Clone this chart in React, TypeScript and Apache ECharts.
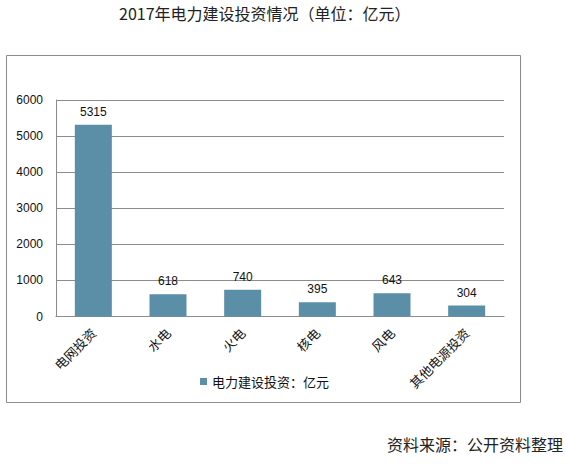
import React, { useEffect, useRef } from "react";
import * as echarts from "echarts";

const titleText = "2017年电力建设投资情况（单位：亿元）";
const sourceText = "资料来源：公开资料整理";
const seriesName = "电力建设投资：亿元";
const categories = ["电网投资", "水电", "火电", "核电", "风电", "其他电源投资"];
const values = [5315, 618, 740, 395, 643, 304];
const yTicks = [0, 1000, 2000, 3000, 4000, 5000, 6000];

const CJK = '"Noto Sans CJK SC", "Liberation Sans", sans-serif';
const NUM = '"Liberation Sans", "Noto Sans CJK SC", sans-serif';

export default function App() {
  const ref = useRef<HTMLDivElement>(null);
  useEffect(() => {
    if (!ref.current) return;
    const chart = echarts.init(ref.current, undefined, { renderer: "svg" });
    chart.setOption({
      animation: false,
      backgroundColor: "#ffffff",
      title: {
        text: titleText,
        left: 119,
        top: 5,
        padding: 0,
        textStyle: { fontFamily: CJK, fontSize: 16, fontWeight: "normal", color: "#222" },
      },
      legend: {
        data: [seriesName],
        left: 200,
        top: 375,
        padding: 0,
        icon: "rect",
        itemWidth: 7,
        itemHeight: 7,
        textStyle: { fontFamily: CJK, fontSize: 13, color: "#111" },
      },
      grid: { left: 56, right: 62, top: 100, bottom: 147.5, containLabel: false },
      xAxis: {
        type: "category",
        data: categories,
        axisLine: { show: true, lineStyle: { color: "#8c8c8c", width: 1 } },
        axisTick: { show: false },
        axisLabel: {
          interval: 0,
          rotate: 45,
          margin: 14,
          fontFamily: CJK,
          fontSize: 13,
          color: "#111",
        },
      },
      yAxis: {
        type: "value",
        min: yTicks[0],
        max: yTicks[yTicks.length - 1],
        interval: 1000,
        axisLine: { show: true, lineStyle: { color: "#8c8c8c", width: 1 } },
        axisTick: { show: false },
        axisLabel: {
          margin: 13,
          fontFamily: NUM,
          fontSize: 12,
          color: "#111",
          formatter: (v: number) => String(v),
        },
        splitLine: { show: true, lineStyle: { color: "#8c8c8c", width: 1 } },
      },
      series: [
        {
          name: seriesName,
          type: "bar",
          data: values,
          barWidth: 37,
          itemStyle: { color: "#5b8fa7" },
          label: {
            show: true,
            position: "top",
            distance: 7,
            fontFamily: NUM,
            fontSize: 12,
            color: "#111",
          },
        },
      ],
      graphic: [
        {
          type: "rect",
          shape: { x: 6.5, y: 55.5, width: 514, height: 347 },
          style: { fill: "none", stroke: "#8c8c8c", lineWidth: 1 },
          silent: true,
        },
        {
          type: "text",
          left: 387,
          top: 436,
          style: { text: sourceText, font: `16px ${CJK}`, fill: "#222" },
        },
      ],
    });
    return () => chart.dispose();
  }, []);
  return (
    <div
      ref={ref}
      style={{ position: "fixed", left: 0, top: 0, width: 566, height: 464 }}
    />
  );
}
